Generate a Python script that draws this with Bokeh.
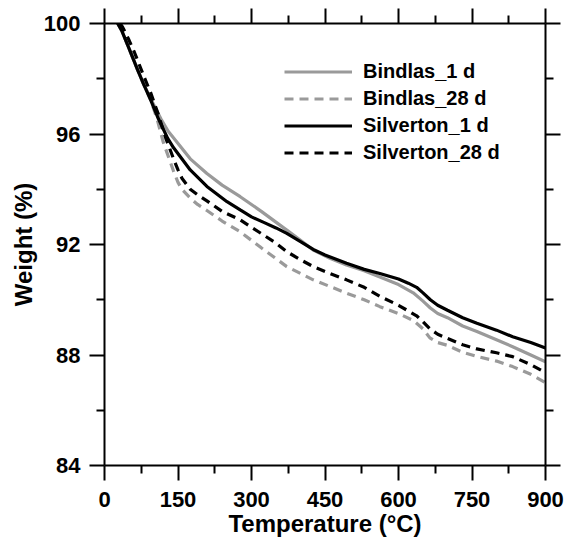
from bokeh.plotting import figure
from bokeh.models import LinearAxis, FixedTicker, Legend, LegendItem, Range1d
from bokeh.embed import file_html
from bokeh.resources import INLINE

# Bindlas_1 d
t_b1 = [27, 35, 50, 68, 80, 95, 115, 130, 146, 175, 209, 240, 277, 320, 372,
        400, 426, 460, 494, 530, 562, 600, 630, 650, 665, 680, 700, 731, 760,
        800, 833, 870, 900]
w_b1 = [100, 99.75, 99.1, 98.3, 97.8, 97.25, 96.55, 96.1, 95.75, 95.1, 94.57,
        94.15, 93.73, 93.2, 92.52, 92.15, 91.8, 91.5, 91.26, 91.05, 90.82,
        90.55, 90.25, 89.95, 89.7, 89.5, 89.35, 89.05, 88.85, 88.55, 88.3,
        88.0, 87.75]

# Bindlas_28 d
t_b28 = [27, 35, 50, 68, 80, 95, 108, 120, 141, 150, 158, 175, 190, 209, 240,
         277, 320, 372, 400, 426, 460, 494, 530, 562, 600, 630, 650, 664, 680,
         700, 731, 760, 800, 833, 870, 900]
w_b28 = [100, 99.75, 99.1, 98.3, 97.8, 97.2, 96.5, 95.7, 94.65, 94.25, 94.0,
         93.68, 93.45, 93.23, 92.85, 92.46, 91.88, 91.2, 90.95, 90.72, 90.48,
         90.24, 90.0, 89.75, 89.5, 89.25, 88.95, 88.62, 88.45, 88.35, 88.1,
         87.95, 87.78, 87.58, 87.3, 87.0]

# Silverton_1 d
t_s1 = [27, 35, 50, 68, 80, 95, 110, 129, 141, 175, 209, 250, 277, 300, 325,
        350, 372, 400, 426, 450, 494, 530, 562, 600, 620, 637, 650, 665, 680,
        700, 731, 760, 800, 833, 870, 900]
w_s1 = [100, 99.75, 99.1, 98.3, 97.8, 97.2, 96.55, 95.84, 95.5, 94.7, 94.1,
        93.55, 93.25, 93.0, 92.8, 92.6, 92.4, 92.1, 91.82, 91.62, 91.32, 91.1,
        90.95, 90.75, 90.6, 90.45, 90.25, 90.0, 89.8, 89.62, 89.35, 89.15,
        88.9, 88.66, 88.45, 88.25]

# Silverton_28 d
t_s28 = [32, 37, 50, 61, 81, 95, 110, 125, 141, 150, 158, 175, 190, 209, 240,
         277, 300, 324, 350, 372, 400, 426, 460, 494, 530, 562, 600, 637, 650,
         664, 680, 700, 731, 760, 800, 833, 870, 900]
w_s28 = [100, 99.87, 99.4, 98.96, 98.06, 97.46, 96.7, 95.85, 95.1, 94.7, 94.4,
         94.0, 93.8, 93.58, 93.2, 92.89, 92.62, 92.35, 92.05, 91.74, 91.45,
         91.2, 90.95, 90.72, 90.45, 90.12, 89.8, 89.42, 89.2, 88.95, 88.75,
         88.6, 88.37, 88.22, 88.08, 87.94, 87.65, 87.36]

x_ticks = [0, 150, 300, 450, 600, 750, 900]
x_minor = [75, 225, 375, 525, 675, 825]
y_ticks = [84, 88, 92, 96, 100]
y_minor = [86, 90, 94, 98]

FONT = "Liberation Sans"
GRAY = "#9a9a9a"

p = figure(width=565, height=545, output_backend="svg",
           toolbar_location=None, x_range=Range1d(0, 900), y_range=Range1d(84, 100),
           min_border_left=104, min_border_top=23, min_border_right=20,
           min_border_bottom=80,
           x_axis_label="Temperature (°C)", y_axis_label="Weight (%)")
p.xgrid.visible = False
p.ygrid.visible = False
p.outline_line_color = None


def style_axis(ax, ticks, minor, show_labels):
    ax.ticker = FixedTicker(ticks=ticks, minor_ticks=minor)
    ax.axis_line_width = 2
    ax.axis_line_color = "black"
    ax.major_tick_line_color = "black"
    ax.minor_tick_line_color = "black"
    ax.major_tick_line_width = 2
    ax.minor_tick_line_width = 2
    ax.major_tick_out = 15
    ax.major_tick_in = 0
    ax.minor_tick_out = 8
    ax.major_label_text_font = FONT
    ax.major_label_text_font_style = "bold"
    ax.major_label_text_font_size = "22px"
    ax.major_label_text_color = "black"
    ax.major_label_standoff = 9
    ax.axis_label_text_font = FONT
    ax.axis_label_text_font_style = "bold"
    ax.axis_label_text_font_size = "24px"
    ax.axis_label_text_color = "black"
    if not show_labels:
        ax.major_label_overrides = {t: "" for t in ticks}
        ax.major_label_standoff = 0


bx = p.xaxis[0]
style_axis(bx, x_ticks, x_minor, True)
bx.major_label_standoff = 11
bx.axis_label_standoff = 0

ly = p.yaxis[0]
style_axis(ly, y_ticks, y_minor, True)
ly.major_label_standoff = 9
ly.axis_label_standoff = 4

tx = LinearAxis()
style_axis(tx, x_ticks, x_minor, False)
p.add_layout(tx, "above")

ry = LinearAxis()
style_axis(ry, y_ticks, y_minor, False)
p.add_layout(ry, "right")

r1 = p.line(t_b1, w_b1, line_color=GRAY, line_width=3.2)
r2 = p.line(t_b28, w_b28, line_color=GRAY, line_width=3.2, line_dash="9 6")
r3 = p.line(t_s1, w_s1, line_color="black", line_width=3.2)
r4 = p.line(t_s28, w_s28, line_color="black", line_width=3.2, line_dash="9 6")

legend = Legend(items=[
    LegendItem(label="Bindlas_1 d", renderers=[r1]),
    LegendItem(label="Bindlas_28 d", renderers=[r2]),
    LegendItem(label="Silverton_1 d", renderers=[r3]),
    LegendItem(label="Silverton_28 d", renderers=[r4]),
], location=(180, 299))
legend.padding = 0
legend.margin = 0
legend.spacing = 0
legend.border_line_alpha = 0
legend.background_fill_alpha = 0
legend.glyph_width = 68
legend.glyph_height = 27
legend.label_height = 27
legend.label_standoff = 11
legend.label_text_font = FONT
legend.label_text_font_style = "bold"
legend.label_text_font_size = "20px"
legend.label_text_color = "black"
p.add_layout(legend, "center")

open("out.html", "w").write(file_html(p, INLINE))
